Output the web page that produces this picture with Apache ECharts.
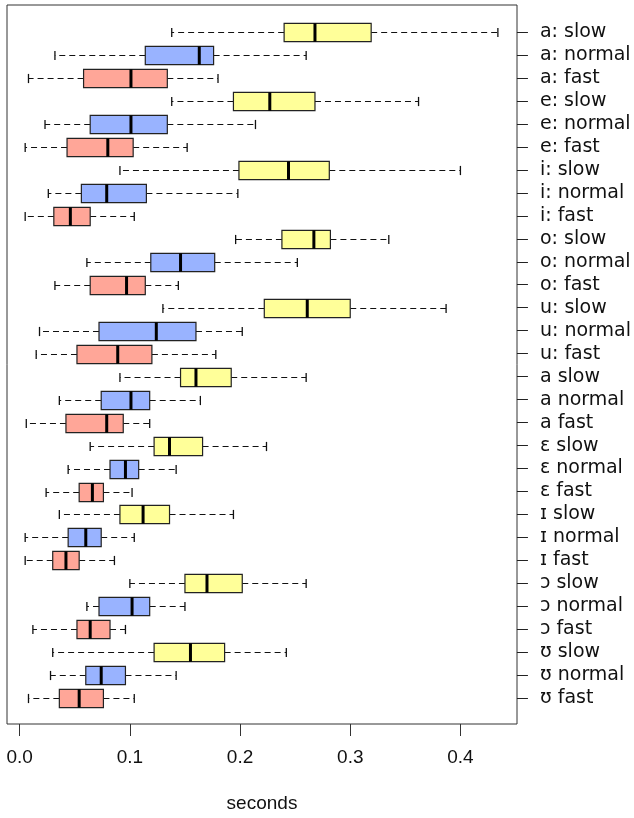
<!DOCTYPE html>
<html>
<head>
<meta charset="utf-8">
<script src="https://cdn.jsdelivr.net/npm/echarts@6/dist/echarts.min.js"></script>
<style>
  html, body { margin: 0; padding: 0; background: #fff; }
  #chart-container { width: 634px; height: 818px; }
</style>
</head>
<body>
<div id="chart-container"></div>
<script>
// vowel duration by speaking rate, top row first
var labels = [
  'a: slow', 'a: normal', 'a: fast',
  'e: slow', 'e: normal', 'e: fast',
  'i: slow', 'i: normal', 'i: fast',
  'o: slow', 'o: normal', 'o: fast',
  'u: slow', 'u: normal', 'u: fast',
  'a slow', 'a normal', 'a fast',
  'ɛ slow', 'ɛ normal', 'ɛ fast',
  'ɪ slow', 'ɪ normal', 'ɪ fast',
  'ɔ slow', 'ɔ normal', 'ɔ fast',
  'ʊ slow', 'ʊ normal', 'ʊ fast'
];
var mins    = [0.138, 0.032, 0.008, 0.138, 0.023, 0.005, 0.091, 0.026, 0.005, 0.196,
               0.061, 0.032, 0.130, 0.018, 0.015, 0.091, 0.036, 0.006, 0.064, 0.044,
               0.024, 0.036, 0.005, 0.005, 0.100, 0.061, 0.012, 0.030, 0.028, 0.008];
var q1s     = [0.240, 0.114, 0.058, 0.194, 0.064, 0.043, 0.199, 0.056, 0.031, 0.238,
               0.119, 0.064, 0.222, 0.072, 0.052, 0.146, 0.074, 0.042, 0.122, 0.082,
               0.054, 0.091, 0.044, 0.030, 0.150, 0.072, 0.052, 0.122, 0.060, 0.036];
var medians = [0.268, 0.163, 0.101, 0.227, 0.101, 0.080, 0.244, 0.079, 0.046, 0.267,
               0.146, 0.097, 0.261, 0.124, 0.089, 0.160, 0.101, 0.079, 0.136, 0.096,
               0.066, 0.112, 0.060, 0.042, 0.170, 0.102, 0.064, 0.155, 0.074, 0.054];
var q3s     = [0.319, 0.176, 0.134, 0.268, 0.134, 0.103, 0.281, 0.115, 0.064, 0.282,
               0.177, 0.114, 0.300, 0.160, 0.120, 0.192, 0.118, 0.094, 0.166, 0.108,
               0.076, 0.136, 0.074, 0.054, 0.202, 0.118, 0.082, 0.186, 0.096, 0.076];
var maxs    = [0.434, 0.260, 0.180, 0.362, 0.214, 0.152, 0.400, 0.198, 0.104, 0.335,
               0.252, 0.144, 0.387, 0.202, 0.178, 0.260, 0.164, 0.118, 0.224, 0.142,
               0.102, 0.194, 0.104, 0.086, 0.260, 0.150, 0.096, 0.242, 0.142, 0.104];
var rateColors = ['#FFFF99', '#99B3FF', '#FFA698']; // slow, normal, fast
var tickValues = [0, 0.1, 0.2, 0.3, 0.4];

var xMin = -0.0115, xMax = 0.4513;

var dom = document.getElementById('chart-container');
var myChart = echarts.init(dom, null, { renderer: 'canvas' });

var seriesData = labels.map(function (name, i) {
  return [i, mins[i], q1s[i], medians[i], q3s[i], maxs[i]];
});

function renderBox(params, api) {
  var i = api.value(0);
  var pLo = api.coord([api.value(1), i]);
  var pQ1 = api.coord([api.value(2), i]);
  var pMd = api.coord([api.value(3), i]);
  var pQ3 = api.coord([api.value(4), i]);
  var pHi = api.coord([api.value(5), i]);
  var band = api.size([0, 1])[1];
  var h = band * 0.8;
  var cap = band * 0.2;
  var cy = Math.round(pMd[1]) + 0.5;
  var dash = { stroke: '#111', lineWidth: 1.1, lineDash: [6, 4] };
  var solid = { stroke: '#111', lineWidth: 1.3 };
  return {
    type: 'group',
    children: [
      { type: 'line', shape: { x1: pQ1[0], y1: cy, x2: pLo[0], y2: cy }, style: dash },
      { type: 'line', shape: { x1: pQ3[0], y1: cy, x2: pHi[0], y2: cy }, style: dash },
      { type: 'line', shape: { x1: pLo[0], y1: cy - cap, x2: pLo[0], y2: cy + cap }, style: solid },
      { type: 'line', shape: { x1: pHi[0], y1: cy - cap, x2: pHi[0], y2: cy + cap }, style: solid },
      {
        type: 'rect',
        shape: { x: pQ1[0], y: cy - h / 2, width: pQ3[0] - pQ1[0], height: h },
        style: { fill: rateColors[i % 3], stroke: '#222', lineWidth: 1.2 }
      },
      { type: 'line', shape: { x1: pMd[0], y1: cy - h / 2, x2: pMd[0], y2: cy + h / 2 },
        style: { stroke: '#000', lineWidth: 3 } }
    ]
  };
}

var option = {
  animation: false,
  backgroundColor: '#fff',
  grid: [
    { left: 7, top: 5, width: 510, height: 719, show: true, borderColor: '#333', borderWidth: 1,
      backgroundColor: 'transparent' },
    { left: 7, top: 20.5, width: 510, height: 689.3 }
  ],
  xAxis: [
    {
      gridIndex: 0, type: 'value', min: xMin, max: xMax,
      name: 'seconds', nameLocation: 'middle', nameGap: 70,
      nameTextStyle: { fontFamily: 'Liberation Sans', fontSize: 19, color: '#111' },
      splitLine: { show: false },
      axisLine: { show: false, onZero: false },
      axisTick: { show: true, length: 12, customValues: tickValues, lineStyle: { color: '#333', width: 1 } },
      axisLabel: {
        customValues: tickValues, margin: 24,
        fontFamily: 'Liberation Sans', fontSize: 19, color: '#111',
        formatter: function (v) { return v.toFixed(1); }
      }
    },
    { gridIndex: 1, type: 'value', min: xMin, max: xMax, show: false, splitLine: { show: false } }
  ],
  yAxis: [
    { gridIndex: 0, type: 'value', min: 0, max: 1, show: false, splitLine: { show: false } },
    {
      gridIndex: 1, type: 'category', data: labels, inverse: true, position: 'right',
      axisLine: { show: false, onZero: false },
      axisTick: { show: true, alignWithLabel: true, interval: 0, length: 11, lineStyle: { color: '#222' } },
      axisLabel: { interval: 0, margin: 23, fontFamily: 'DejaVu Sans', fontSize: 19, color: '#111' },
      splitLine: { show: false }
    }
  ],
  series: [{
    type: 'custom',
    xAxisIndex: 1,
    yAxisIndex: 1,
    clip: false,
    renderItem: renderBox,
    encode: { x: [1, 2, 3, 4, 5], y: 0 },
    data: seriesData
  }]
};

if (option && typeof option === 'object') {
  myChart.setOption(option);
}

window.addEventListener('resize', myChart.resize);
</script>
</body>
</html>
